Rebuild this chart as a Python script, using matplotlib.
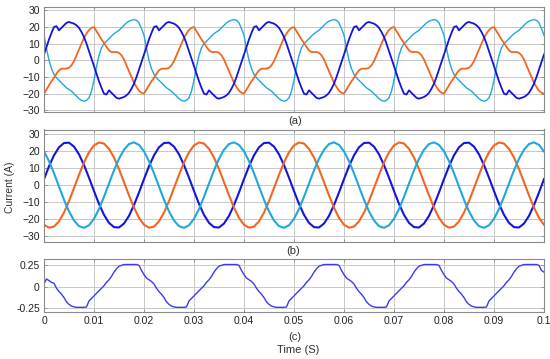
import numpy as np
import matplotlib
matplotlib.use("Agg")
import matplotlib.pyplot as plt

plt.rcParams['font.family'] = ['Liberation Sans', 'DejaVu Sans']

# ---------------- data ----------------
# panel (a): 0.5 ms samples, 0 .. 0.1 s
t_a = np.linspace(0, 0.1, 201)
a_blue = [
    3.5, 8, 12.5, 16.5, 20, 20.5, 18, 19.5, 21, 22.5, 23, 22.5, 22, 21, 19.5, 17, 14, 10, 5.5, 1,
    -3.5, -8, -12.5, -16.5, -20, -20.5, -18, -19.5, -21, -22.5, -23, -22.5, -22, -21, -19.5, -17, -14, -10, -5.5, -1,
    3.5, 8, 12.5, 16.5, 20, 20.5, 18, 19.5, 21, 22.5, 23, 22.5, 22, 21, 19.5, 17, 14, 10, 5.5, 1,
    -3.5, -8, -12.5, -16.5, -20, -20.5, -18, -19.5, -21, -22.5, -23, -22.5, -22, -21, -19.5, -17, -14, -10, -5.5, -1,
    3.5, 8, 12.5, 16.5, 20, 20.5, 18, 19.5, 21, 22.5, 23, 22.5, 22, 21, 19.5, 17, 14, 10, 5.5, 1,
    -3.5, -8, -12.5, -16.5, -20, -20.5, -18, -19.5, -21, -22.5, -23, -22.5, -22, -21, -19.5, -17, -14, -10, -5.5, -1,
    3.5, 8, 12.5, 16.5, 20, 20.5, 18, 19.5, 21, 22.5, 23, 22.5, 22, 21, 19.5, 17, 14, 10, 5.5, 1,
    -3.5, -8, -12.5, -16.5, -20, -20.5, -18, -19.5, -21, -22.5, -23, -22.5, -22, -21, -19.5, -17, -14, -10, -5.5, -1,
    3.5, 8, 12.5, 16.5, 20, 20.5, 18, 19.5, 21, 22.5, 23, 22.5, 22, 21, 19.5, 17, 14, 10, 5.5, 1,
    -3.5, -8, -12.5, -16.5, -20, -20.5, -18, -19.5, -21, -22.5, -23, -22.5, -22, -21, -19.5, -17, -14, -10, -5.5, -1,
    3.5,
]
a_orange = [
    -20, -17.5, -15, -12.5, -10.5, -8, -6, -5, -5, -5, -4.5, -3, -0.5, 3, 6.5, 10, 13.5, 16, 18.2, 19.5,
    20, 17.5, 15, 12.5, 10.5, 8, 6, 5, 5, 5, 4.5, 3, 0.5, -3, -6.5, -10, -13.5, -16, -18.2, -19.5,
    -20, -17.5, -15, -12.5, -10.5, -8, -6, -5, -5, -5, -4.5, -3, -0.5, 3, 6.5, 10, 13.5, 16, 18.2, 19.5,
    20, 17.5, 15, 12.5, 10.5, 8, 6, 5, 5, 5, 4.5, 3, 0.5, -3, -6.5, -10, -13.5, -16, -18.2, -19.5,
    -20, -17.5, -15, -12.5, -10.5, -8, -6, -5, -5, -5, -4.5, -3, -0.5, 3, 6.5, 10, 13.5, 16, 18.2, 19.5,
    20, 17.5, 15, 12.5, 10.5, 8, 6, 5, 5, 5, 4.5, 3, 0.5, -3, -6.5, -10, -13.5, -16, -18.2, -19.5,
    -20, -17.5, -15, -12.5, -10.5, -8, -6, -5, -5, -5, -4.5, -3, -0.5, 3, 6.5, 10, 13.5, 16, 18.2, 19.5,
    20, 17.5, 15, 12.5, 10.5, 8, 6, 5, 5, 5, 4.5, 3, 0.5, -3, -6.5, -10, -13.5, -16, -18.2, -19.5,
    -20, -17.5, -15, -12.5, -10.5, -8, -6, -5, -5, -5, -4.5, -3, -0.5, 3, 6.5, 10, 13.5, 16, 18.2, 19.5,
    20, 17.5, 15, 12.5, 10.5, 8, 6, 5, 5, 5, 4.5, 3, 0.5, -3, -6.5, -10, -13.5, -16, -18.2, -19.5,
    -20,
]
a_cyan = [
    15, 7, 0, -5, -8.5, -10.5, -12, -13.5, -15, -16.5, -17.5, -18.5, -20, -21.5, -23, -24, -24.5, -24, -22.5, -18.5,
    -12, -4, 3, 7.5, 10, 11.5, 13, 14.5, 16, 17, 18, 19.5, 21, 22.5, 23.5, 24, 24.5, 24, 22.5, 19,
    15, 7, 0, -5, -8.5, -10.5, -12, -13.5, -15, -16.5, -17.5, -18.5, -20, -21.5, -23, -24, -24.5, -24, -22.5, -18.5,
    -12, -4, 3, 7.5, 10, 11.5, 13, 14.5, 16, 17, 18, 19.5, 21, 22.5, 23.5, 24, 24.5, 24, 22.5, 19,
    15, 7, 0, -5, -8.5, -10.5, -12, -13.5, -15, -16.5, -17.5, -18.5, -20, -21.5, -23, -24, -24.5, -24, -22.5, -18.5,
    -12, -4, 3, 7.5, 10, 11.5, 13, 14.5, 16, 17, 18, 19.5, 21, 22.5, 23.5, 24, 24.5, 24, 22.5, 19,
    15, 7, 0, -5, -8.5, -10.5, -12, -13.5, -15, -16.5, -17.5, -18.5, -20, -21.5, -23, -24, -24.5, -24, -22.5, -18.5,
    -12, -4, 3, 7.5, 10, 11.5, 13, 14.5, 16, 17, 18, 19.5, 21, 22.5, 23.5, 24, 24.5, 24, 22.5, 19,
    15, 7, 0, -5, -8.5, -10.5, -12, -13.5, -15, -16.5, -17.5, -18.5, -20, -21.5, -23, -24, -24.5, -24, -22.5, -18.5,
    -12, -4, 3, 7.5, 10, 11.5, 13, 14.5, 16, 17, 18, 19.5, 21, 22.5, 23.5, 24, 24.5, 24, 22.5, 19,
    15,
]

# panel (b): 1 ms samples
t_b = np.linspace(0, 0.1, 101)
b_blue = [
    3.5, 11, 17.4, 22.1, 24.6, 24.8, 22.5, 18, 11.7, 4.3, -3.5, -11, -17.4, -22.1, -24.6, -24.8, -22.5, -18, -11.7, -4.3,
    3.5, 11, 17.4, 22.1, 24.6, 24.8, 22.5, 18, 11.7, 4.3, -3.5, -11, -17.4, -22.1, -24.6, -24.8, -22.5, -18, -11.7, -4.3,
    3.5, 11, 17.4, 22.1, 24.6, 24.8, 22.5, 18, 11.7, 4.3, -3.5, -11, -17.4, -22.1, -24.6, -24.8, -22.5, -18, -11.7, -4.3,
    3.5, 11, 17.4, 22.1, 24.6, 24.8, 22.5, 18, 11.7, 4.3, -3.5, -11, -17.4, -22.1, -24.6, -24.8, -22.5, -18, -11.7, -4.3,
    3.5, 11, 17.4, 22.1, 24.6, 24.8, 22.5, 18, 11.7, 4.3, -3.5, -11, -17.4, -22.1, -24.6, -24.8, -22.5, -18, -11.7, -4.3,
    3.5,
]
b_orange = [
    -23.2, -24.9, -24.3, -21.2, -16.1, -9.4, -1.7, 6, 13.2, 19.2, 23.2, 24.9, 24.3, 21.2, 16.1, 9.4, 1.7, -6, -13.2, -19.2,
    -23.2, -24.9, -24.3, -21.2, -16.1, -9.4, -1.7, 6, 13.2, 19.2, 23.2, 24.9, 24.3, 21.2, 16.1, 9.4, 1.7, -6, -13.2, -19.2,
    -23.2, -24.9, -24.3, -21.2, -16.1, -9.4, -1.7, 6, 13.2, 19.2, 23.2, 24.9, 24.3, 21.2, 16.1, 9.4, 1.7, -6, -13.2, -19.2,
    -23.2, -24.9, -24.3, -21.2, -16.1, -9.4, -1.7, 6, 13.2, 19.2, 23.2, 24.9, 24.3, 21.2, 16.1, 9.4, 1.7, -6, -13.2, -19.2,
    -23.2, -24.9, -24.3, -21.2, -16.1, -9.4, -1.7, 6, 13.2, 19.2, 23.2, 24.9, 24.3, 21.2, 16.1, 9.4, 1.7, -6, -13.2, -19.2,
    -23.2,
]
b_cyan = [
    19.7, 14, 6.9, -0.9, -8.6, -15.4, -20.7, -24, -25, -23.5, -19.7, -14, -6.9, 0.9, 8.6, 15.4, 20.7, 24, 25, 23.5,
    19.7, 14, 6.9, -0.9, -8.6, -15.4, -20.7, -24, -25, -23.5, -19.7, -14, -6.9, 0.9, 8.6, 15.4, 20.7, 24, 25, 23.5,
    19.7, 14, 6.9, -0.9, -8.6, -15.4, -20.7, -24, -25, -23.5, -19.7, -14, -6.9, 0.9, 8.6, 15.4, 20.7, 24, 25, 23.5,
    19.7, 14, 6.9, -0.9, -8.6, -15.4, -20.7, -24, -25, -23.5, -19.7, -14, -6.9, 0.9, 8.6, 15.4, 20.7, 24, 25, 23.5,
    19.7, 14, 6.9, -0.9, -8.6, -15.4, -20.7, -24, -25, -23.5, -19.7, -14, -6.9, 0.9, 8.6, 15.4, 20.7, 24, 25, 23.5,
    19.7,
]

# panel (c): 0.5 ms samples
t_c = np.linspace(0, 0.1, 201)
c_vals = [
    0.03, 0.09, 0.07, 0.05, 0.04, -0.02, -0.06, -0.09, -0.13, -0.18, -0.21, -0.23, -0.24, -0.245, -0.245, -0.245, -0.245, -0.24, -0.17, -0.14,
    -0.11, -0.08, -0.05, -0.02, 0.01, 0.05, 0.08, 0.12, 0.17, 0.21, 0.24, 0.25, 0.26, 0.26, 0.26, 0.26, 0.26, 0.26, 0.25, 0.19,
    0.14, 0.10, 0.08, 0.06, 0.03, -0.02, -0.06, -0.09, -0.13, -0.18, -0.21, -0.23, -0.24, -0.245, -0.245, -0.245, -0.245, -0.24, -0.17, -0.14,
    -0.11, -0.08, -0.05, -0.02, 0.01, 0.05, 0.08, 0.12, 0.17, 0.21, 0.24, 0.25, 0.26, 0.26, 0.26, 0.26, 0.26, 0.26, 0.25, 0.19,
    0.14, 0.10, 0.08, 0.06, 0.03, -0.02, -0.06, -0.09, -0.13, -0.18, -0.21, -0.23, -0.24, -0.245, -0.245, -0.245, -0.245, -0.24, -0.17, -0.14,
    -0.11, -0.08, -0.05, -0.02, 0.01, 0.05, 0.08, 0.12, 0.17, 0.21, 0.24, 0.25, 0.26, 0.26, 0.26, 0.26, 0.26, 0.26, 0.25, 0.19,
    0.14, 0.10, 0.08, 0.06, 0.03, -0.02, -0.06, -0.09, -0.13, -0.18, -0.21, -0.23, -0.24, -0.245, -0.245, -0.245, -0.245, -0.24, -0.17, -0.14,
    -0.11, -0.08, -0.05, -0.02, 0.01, 0.05, 0.08, 0.12, 0.17, 0.21, 0.24, 0.25, 0.26, 0.26, 0.26, 0.26, 0.26, 0.26, 0.25, 0.19,
    0.14, 0.10, 0.08, 0.06, 0.03, -0.02, -0.06, -0.09, -0.13, -0.18, -0.21, -0.23, -0.24, -0.245, -0.245, -0.245, -0.245, -0.24, -0.17, -0.14,
    -0.11, -0.08, -0.05, -0.02, 0.01, 0.05, 0.08, 0.12, 0.17, 0.21, 0.24, 0.25, 0.26, 0.26, 0.26, 0.26, 0.26, 0.26, 0.25, 0.19,
    0.17,
]

x_ticks = [0, 0.01, 0.02, 0.03, 0.04, 0.05, 0.06, 0.07, 0.08, 0.09, 0.1]
x_labels = ["0", "0.01", "0.02", "0.03", "0.04", "0.05", "0.06", "0.07", "0.08", "0.09", "0.1"]
y_ticks_ab = [-30, -20, -10, 0, 10, 20, 30]
y_ticks_c = [-0.25, 0, 0.25]
y_labels_c = ["-0.25", "0", "0.25"]

# ---------------- styling ----------------
C_BLUE = "#1414dc"
C_ORANGE = "#f2661e"
C_CYAN = "#22a6dc"
C_C = "#3a3af5"

W, H = 550, 359
fig = plt.figure(figsize=(W / 100, H / 100), dpi=100)
fig.patch.set_facecolor("white")


def ax_at(left, top, right, bottom):
    return fig.add_axes([left / W, 1 - bottom / H, (right - left) / W, (bottom - top) / H])


def style(ax):
    ax.set_facecolor("white")
    ax.grid(True, color="#c8c8c8", linewidth=0.7)
    ax.set_axisbelow(True)
    for s in ax.spines.values():
        s.set_color("#8a8a8a")
        s.set_linewidth(0.8)
    ax.tick_params(direction="in", length=2.5, width=0.6, colors="#8a8a8a",
                   labelcolor="#222222", labelsize=7.5, top=True, right=True, pad=3)
    ax.set_xlim(0, 0.1)
    ax.set_xticks(x_ticks)


ax1 = ax_at(44, 7, 544, 112)
ax2 = ax_at(44, 129.5, 544, 241.5)
ax3 = ax_at(44, 259, 544, 312)

for ax in (ax1, ax2, ax3):
    style(ax)

ax1.plot(t_a, a_cyan, color=C_CYAN, lw=1.0)
ax1.plot(t_a, a_orange, color=C_ORANGE, lw=1.3)
ax1.plot(t_a, a_blue, color=C_BLUE, lw=1.3)
ax1.set_ylim(-31, 32)
ax1.set_yticks(y_ticks_ab)
ax1.set_xticklabels([])

ax2.plot(t_b, b_blue, color=C_BLUE, lw=1.5)
ax2.plot(t_b, b_orange, color=C_ORANGE, lw=1.5)
ax2.plot(t_b, b_cyan, color=C_CYAN, lw=1.5)
ax2.set_ylim(-33, 32.5)
ax2.set_yticks(y_ticks_ab)
ax2.set_xticklabels([])

ax3.plot(t_c, c_vals, color=C_C, lw=1.0)
ax3.set_ylim(-0.3, 0.325)
ax3.set_yticks(y_ticks_c)
ax3.set_yticklabels(y_labels_c)
ax3.set_xticklabels(x_labels)

fig.text(10 / W, 1 - 187 / H, "Current (A)", rotation=90, ha="center", va="center",
         fontsize=7.5, color="#303030")
fig.text(295 / W, 1 - 121 / H, "(a)", ha="center", va="center", fontsize=8, color="#303030")
fig.text(293 / W, 1 - 251 / H, "(b)", ha="center", va="center", fontsize=8, color="#303030")
fig.text(295 / W, 1 - 337.5 / H, "(c)", ha="center", va="center", fontsize=8, color="#303030")
fig.text(298 / W, 1 - 350 / H, "Time (S)", ha="center", va="center", fontsize=8, color="#303030")

fig.savefig("out.png", dpi=100)
